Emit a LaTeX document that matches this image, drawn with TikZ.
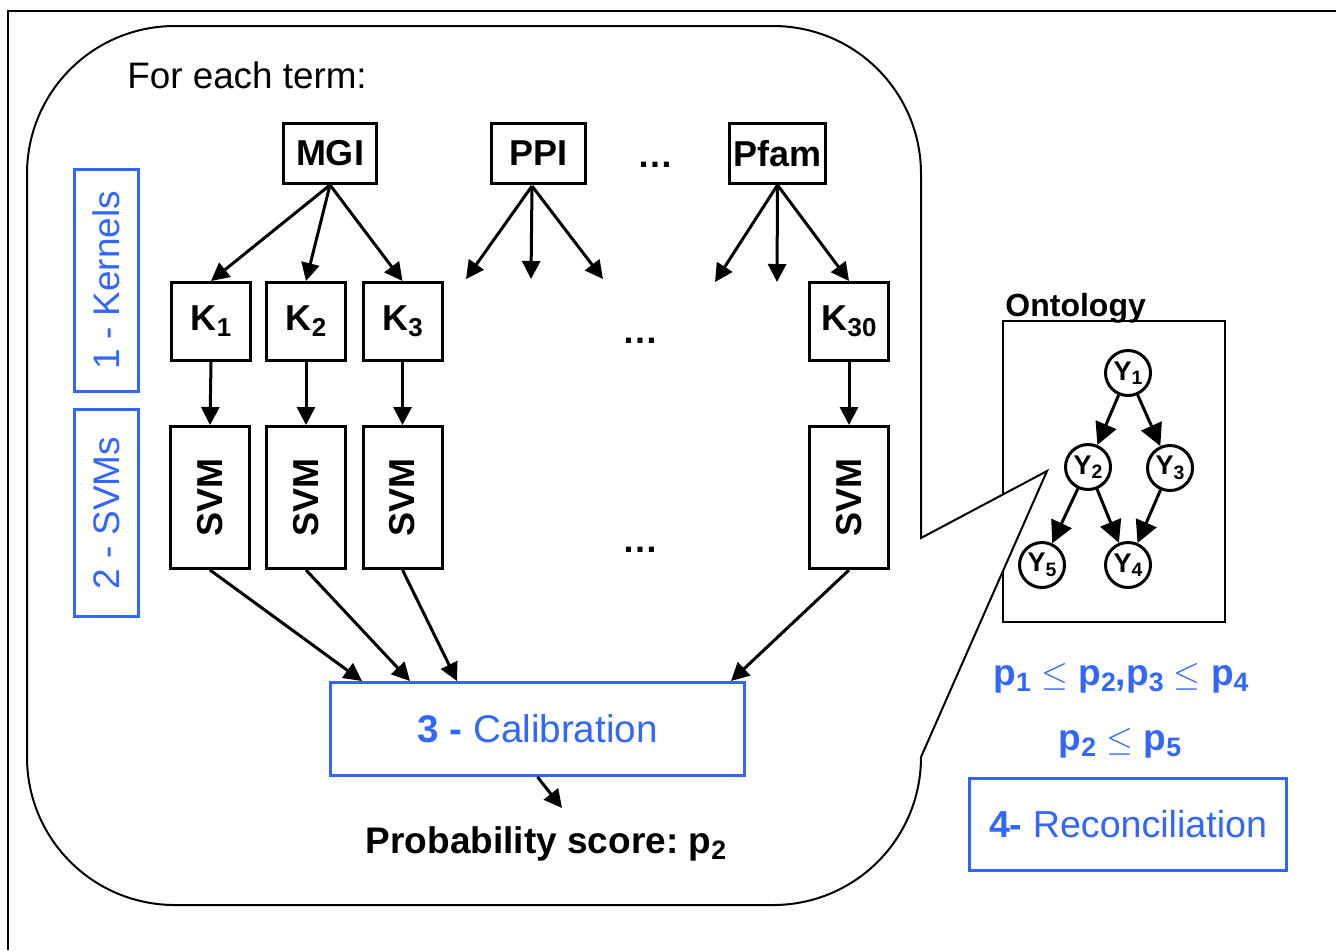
\documentclass[tikz,border=0pt]{standalone}
\usepackage{fontspec}
\usepackage{graphicx}
\setmainfont{Liberation Sans}
\usetikzlibrary{arrows.meta}
\definecolor{myblue}{RGB}{51,102,255}
\newcommand{\fsz}[1]{\fontsize{#1}{#1}\selectfont}
\newcommand{\sbs}[1]{\raisebox{-0.17em}{\scalebox{0.72}{#1}}}
\frenchspacing
\begin{document}
\begin{tikzpicture}[x=0.5pt,y=-0.5pt,
  box/.style={draw, line width=1.5pt, inner sep=0pt, font=\bfseries\fsz{18}},
  bluebox/.style={draw=myblue, line width=1.5pt, inner sep=0pt, text=myblue},
  arr/.style={line width=1.5pt, -{Triangle[length=9pt,width=9pt]}},
  oarr/.style={line width=1.5pt, -{Triangle[length=11pt,width=11pt]}},
  ynode/.style={circle, draw, line width=1.5pt, minimum size=22.5pt, inner sep=0pt, font=\bfseries\fsz{13.5}},
  dots/.style={font=\bfseries\fsz{18}, inner sep=0pt, anchor=base},
  txt/.style={inner sep=0pt}
]
\useasboundingbox (0,0) rectangle (1336,950);
% outer frame
\draw[line width=0.6pt] (8,950) -- (8,11) -- (1336,11);

% ontology box (drawn before the callout so the callout hides part of it)
\node[draw, line width=1pt, minimum width=111pt, minimum height=150.5pt, inner sep=0pt] (ont) at (1113.5,471) {};

% callout
\draw[line width=1pt, fill=white]
  (921,538) -- (1047,471) -- (921,757)
  .. controls (921,839) and (855,905) .. (773,905)
  -- (175,905)
  .. controls (93,905) and (27,839) .. (27,757)
  -- (27,174)
  .. controls (27,92) and (93,26) .. (175,26)
  -- (773,26)
  .. controls (855,26) and (921,92) .. (921,174)
  -- cycle;

\node[txt, anchor=base west, font=\fsz{18.4}] (title) at (127,88) {For each term:};

% sources
\node[box, minimum width=46.5pt, minimum height=30pt] (MGI) at (330,153.5) {MGI};
\node[box, minimum width=47pt, minimum height=30pt] (PPI) at (538.5,153.5) {PPI};
\node[box, minimum width=48pt, minimum height=30pt] (Pfam) at (777.5,153.5) {Pfam};
\node[dots] (d1) at (655,167) {…};

% kernels
\node[box, minimum width=39.5pt, minimum height=39pt] (K1) at (211,321.5) {K\sbs{1}};
\node[box, minimum width=39.5pt, minimum height=39pt] (K2) at (306,321.5) {K\sbs{2}};
\node[box, minimum width=39.5pt, minimum height=39pt] (K3) at (402.5,321.5) {K\sbs{3}};
\node[box, minimum width=39.5pt, minimum height=39pt] (K30) at (849,321.5) {K\sbs{30}};
\node[dots] (d2) at (640,343) {…};

% SVMs
\node[box, minimum width=39.5pt, minimum height=71pt] (S1) at (210,497.5) {\rotatebox{90}{SVM}};
\node[box, minimum width=39.5pt, minimum height=71pt] (S2) at (306,497.5) {\rotatebox{90}{SVM}};
\node[box, minimum width=39.5pt, minimum height=71pt] (S3) at (402.5,497.5) {\rotatebox{90}{SVM}};
\node[box, minimum width=39.5pt, minimum height=71pt] (S4) at (849,497.5) {\rotatebox{90}{SVM}};
\node[dots] (d3) at (640,552) {…};

% step labels
\node[bluebox, minimum width=32pt, minimum height=111pt, font=\fsz{18.5}] (L1) at (106.5,280.5) {\rotatebox{90}{1 - Kernels}};
\node[bluebox, minimum width=32pt, minimum height=103.5pt, font=\fsz{18.5}] (L2) at (106.5,513) {\rotatebox{90}{2 - SVMs}};

% calibration
\node[bluebox, minimum width=207pt, minimum height=46.5pt, font=\fsz{19.3}] (cal) at (537.5,729) {{\bfseries 3 -} Calibration};
\node[txt, anchor=base, font=\bfseries\fsz{18.5}] (prob) at (546,853) {Probability score: p\sbs{2}};
\coordinate (pe) at (562,808);

% free arrow ends
\coordinate (pp1) at (466,279);
\coordinate (pp2) at (531,279);
\coordinate (pp3) at (603,279);
\coordinate (pps) at (532,186);
\coordinate (pf1) at (715,282);
\coordinate (pf2) at (777,282);
\coordinate (c1) at (362,681);
\coordinate (c2) at (410,681);
\coordinate (c3) at (457,681);
\coordinate (c4) at (731,681);

% arrows
\draw[arr] (MGI.south) -- (K1.north);
\draw[arr] (MGI.south) -- (K2.north);
\draw[arr] (MGI.south) -- (K3.north);
\draw[arr] (pps) -- (pp1);
\draw[arr] (pps) -- (pp2);
\draw[arr] (pps) -- (pp3);
\draw[arr] (Pfam.south) -- (pf1);
\draw[arr] (Pfam.south) -- (pf2);
\draw[arr] (Pfam.south) -- (K30.north);
\draw[arr] (K1.south) -- (S1.north);
\draw[arr] (K2.south) -- (S2.north);
\draw[arr] (K3.south) -- (S3.north);
\draw[arr] (K30.south) -- (S4.north);
\draw[arr] (S1.south) -- (c1);
\draw[arr] (S2.south) -- (c2);
\draw[arr] (S3.south) -- (c3);
\draw[arr] (S4.south) -- (c4);
\draw[arr] (cal.south) -- (pe);

% ontology
\node[txt, anchor=base west, font=\bfseries\fsz{16}] (ontlab) at (1005,316) {Ontology};
\node[ynode] (Y1) at (1128,373) {Y\sbs{1}};
\node[ynode] (Y2) at (1088,467) {Y\sbs{2}};
\node[ynode] (Y3) at (1170,468) {Y\sbs{3}};
\node[ynode] (Y5) at (1042,565) {Y\sbs{5}};
\node[ynode] (Y4) at (1128,565) {Y\sbs{4}};
\draw[oarr] (Y1) -- (Y2);
\draw[oarr] (Y1) -- (Y3);
\draw[oarr] (Y2) -- (Y5);
\draw[oarr] (Y2) -- (Y4);
\draw[oarr] (Y3) -- (Y4);

% constraints
\node[txt, anchor=base, text=myblue, font=\bfseries\fsz{18.5}] (cons1) at (1121,685) {p\sbs{1} $\leq$ p\sbs{2},p\sbs{3} $\leq$ p\sbs{4}};
\node[txt, anchor=base, text=myblue, font=\bfseries\fsz{18.5}] (cons2) at (1120,750) {p\sbs{2} $\leq$ p\sbs{5}};

% reconciliation
\node[bluebox, minimum width=158.5pt, minimum height=46pt, font=\fsz{18.8}] (rec) at (1128,824.5) {{\bfseries 4-} Reconciliation};
\end{tikzpicture}
\end{document}
